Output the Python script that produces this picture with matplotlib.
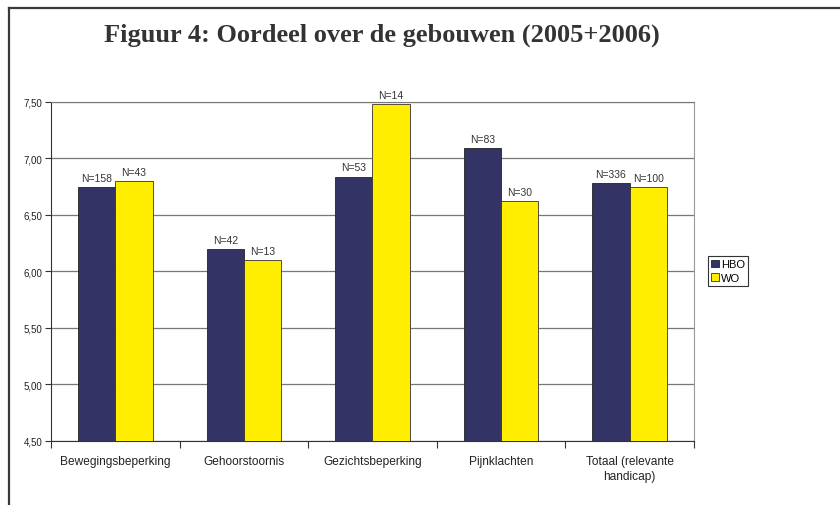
import numpy as np
import matplotlib
matplotlib.use('Agg')
import matplotlib.pyplot as plt
from matplotlib.lines import Line2D

plt.rcParams['font.family'] = ['Liberation Sans', 'DejaVu Sans']

# data
categories = ['Bewegingsbeperking', 'Gehoorstoornis', 'Gezichtsbeperking',
              'Pijnklachten', 'Totaal (relevante\nhandicap)']
hbo = [6.75, 6.20, 6.84, 7.09, 6.78]
wo = [6.80, 6.10, 7.48, 6.62, 6.75]
hbo_n = ['N=158', 'N=42', 'N=53', 'N=83', 'N=336']
wo_n = ['N=43', 'N=13', 'N=14', 'N=30', 'N=100']
yticks = [4.5, 5.0, 5.5, 6.0, 6.5, 7.0, 7.5]

fig = plt.figure(figsize=(8.4, 5.06), dpi=100)
ax = fig.add_axes([0.0607, 0.1265, 0.7653, 0.67])

x = np.arange(len(categories))
w = 0.29
b1 = ax.bar(x - w/2, hbo, w, color='#333366', edgecolor='#222222', lw=0.6, label='HBO', zorder=3)
b2 = ax.bar(x + w/2, wo, w, color='#ffee00', edgecolor='#333333', lw=0.6, label='WO', zorder=3)
ax.bar_label(b1, labels=hbo_n, padding=3, fontsize=7.5, color='#333333')
ax.bar_label(b2, labels=wo_n, padding=3, fontsize=7.5, color='#333333')

ax.set_ylim(4.5, 7.5)
ax.set_yticks(yticks)
ax.set_yticklabels([('%.2f' % v).replace('.', ',') for v in yticks], fontsize=7, color='#222222')
ax.yaxis.grid(True, color='#777777', lw=0.9, zorder=0)

ax.set_xlim(-0.5, len(categories) - 0.5)
ax.set_xticks(np.arange(len(categories) + 1) - 0.5)
ax.set_xticklabels([])
ax.set_xticks(x, minor=True)
ax.set_xticklabels(categories, minor=True, fontsize=8.6, color='#222222', linespacing=1.3)
ax.tick_params(axis='x', which='minor', length=0, pad=10)
ax.tick_params(axis='x', which='major', length=5, width=0.8, color='#333333')
ax.tick_params(axis='y', length=4, width=0.8, color='#333333', pad=2)

ax.spines['left'].set_color('#333333')
ax.spines['bottom'].set_color('#333333')
ax.spines['right'].set_color('#999999')
ax.spines['top'].set_color('#777777')

leg = fig.legend(loc='upper left', bbox_to_anchor=(0.843, 0.492), fontsize=8,
                 handlelength=0.7, handleheight=0.7, handletextpad=0.15,
                 borderpad=0.3, labelspacing=0.3, borderaxespad=0,
                 fancybox=False, framealpha=1)
leg.get_frame().set_edgecolor('#333333')
leg.get_frame().set_linewidth(0.8)

fig.text(0.4545, 1 - 41.5/506, 'Figuur 4: Oordeel over de gebouwen (2005+2006)',
         family=['Liberation Serif'], fontweight='bold', fontsize=19,
         ha='center', va='baseline', color='#333333')

# frame around the figure (top and left only visible)
fig.add_artist(Line2D([0.0105, 1.0], [1 - 9/506, 1 - 9/506], transform=fig.transFigure, color='#3a3a3a', lw=1.6))
fig.add_artist(Line2D([0.0105, 0.0105], [0, 1 - 9/506], transform=fig.transFigure, color='#3a3a3a', lw=1.6))

fig.savefig('out.png', dpi=100)
